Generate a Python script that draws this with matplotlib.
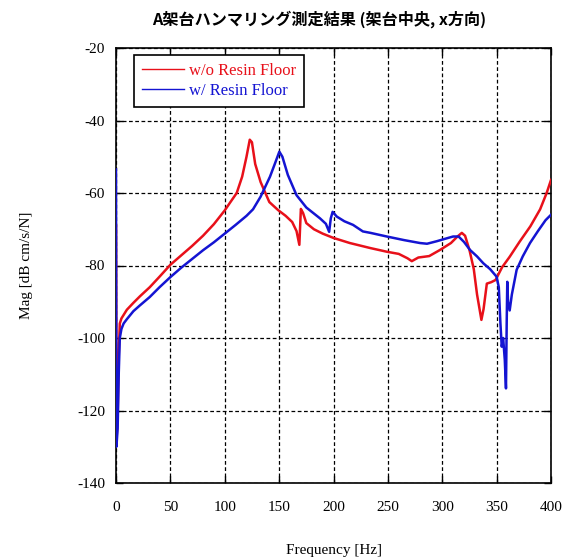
import matplotlib
matplotlib.use("Agg")
import matplotlib.pyplot as plt
from matplotlib.lines import Line2D

# ---- data ----
freq_wo = [0, 0.5, 1.5, 2.5, 3.5, 5, 10, 16, 22, 31, 40, 50, 60, 70, 80, 90, 100,
           105, 111, 116, 120, 123, 125, 128, 133, 141, 149, 156, 162, 166, 168.6,
           170, 172, 175, 182, 190, 200, 215, 234, 249, 260, 268, 272, 278, 288,
           298, 308, 314, 318, 321, 325, 329, 332, 336, 338, 341, 345, 349, 355,
           362, 371, 381, 390, 396, 400]
mag_wo = [-69, -128, -122, -105, -96, -94.6, -92.2, -90.3, -88.5, -86, -83.1, -79.8,
          -77.2, -74.6, -71.8, -68.6, -64.8, -62.6, -60, -55.5, -50, -45.3, -46,
          -52, -57, -62.5, -64.7, -66.3, -68, -70.5, -74.3, -64.4, -65.5, -68.3, -70,
          -71.2, -72.4, -73.8, -75.2, -76.2, -76.8, -78, -78.8, -77.8, -77.4, -75.7,
          -73.8, -72, -71, -71.8, -75.7, -81, -88, -95, -92, -85, -84.6, -84, -80.5,
          -77.6, -73.5, -69.2, -64.5, -60, -56.4]

freq_w = [0, 0.4, 1.5, 2.5, 3.5, 5, 7, 10, 16, 22, 31, 40, 50, 60, 70, 80, 90, 100,
          110, 120, 126, 133, 141.6, 146, 150.2, 153, 158, 166, 175, 187.6, 193, 196,
          197.5, 199.2, 203, 210, 218, 227, 234, 249, 265, 279.5, 286, 295, 303, 310,
          315, 320, 325.5, 332, 337.8, 344, 350, 352, 353.5, 354.7, 356, 357.5,
          358.6, 359.3, 359.8, 360.5, 362, 364, 368.4, 374, 380.7, 388, 395, 400]
mag_w = [-53.5, -130, -125, -110, -100, -97.5, -96, -94.8, -92.6, -91, -88.7,
         -86, -83.2, -80.6, -78.2, -75.8, -73.6, -71.2, -68.8, -66.3, -64.5, -61, -55.5,
         -52, -48.6, -50, -55, -60.6, -64, -67, -68.5, -70.7, -67, -65.2, -66.5, -67.8,
         -68.8, -70.6, -71, -72, -73, -73.8, -74, -73.3, -72.6, -72, -72, -73.5, -75.7,
         -77.5, -79.4, -81, -83.1, -86, -96, -102.4, -100, -106, -113.9, -95, -84.5,
         -90, -92.4, -88, -81.2, -77.5, -73.8, -70.5, -67.5, -66]

labels = ["w/o Resin Floor", "w/ Resin Floor"]
x_ticks = [0, 50, 100, 150, 200, 250, 300, 350, 400]
y_ticks = [-140, -120, -100, -80, -60, -40, -20]

RED = "#e8101a"
BLUE = "#1414d2"
SERIF = ["Liberation Serif", "DejaVu Serif"]

fig = plt.figure(figsize=(5.71, 5.58), dpi=100)
ax = fig.add_axes([116 / 571, 1 - 483 / 558, 435 / 571, 435 / 558])

ax.plot(freq_wo, mag_wo, color=RED, lw=1.8, zorder=3)
ax.plot(freq_w, mag_w, color=BLUE, lw=1.8, zorder=3)

ax.set_xlim(0, 400)
ax.set_ylim(-140, -20)
ax.set_xticks(x_ticks)
ax.set_yticks(y_ticks)
ax.set_xticklabels([str(v) for v in x_ticks], fontfamily=SERIF, fontsize=11)
ax.set_yticklabels([str(v) for v in y_ticks], fontfamily=SERIF, fontsize=11)
ax.tick_params(direction="in", length=5, width=1, top=True, right=True,
               pad=8, colors="black")
ax.tick_params(axis="x", pad=13)
ax.grid(True, color="black", linestyle=(0, (3, 2)), linewidth=0.9)
for s in ax.spines.values():
    s.set_linewidth(1.2)
    s.set_color("black")

ax.set_xlabel("Frequency [Hz]", fontfamily=SERIF, fontsize=11)
ax.set_ylabel("Mag [dB cm/s/N]", fontfamily=SERIF, fontsize=11)
ax.xaxis.set_label_coords(0.5, -0.14)
ax.yaxis.set_label_coords(-0.19, 0.5)

handles = [Line2D([], [], color=RED, lw=1.0), Line2D([], [], color=BLUE, lw=1.0)]
leg = ax.legend(handles, labels, loc="upper left", bbox_to_anchor=(0.041, 0.984),
                borderaxespad=0, fancybox=False, framealpha=1, edgecolor="black",
                prop={"family": SERIF, "size": 12}, handlelength=2.5,
                handletextpad=0.3, labelspacing=0.2, borderpad=0.5)
leg.get_frame().set_linewidth(1.2)
for t, c in zip(leg.get_texts(), [RED, BLUE]):
    t.set_color(c)

fig.text(319 / 571, 1 - 19 / 558, "A架台ハンマリング測定結果 (架台中央, x方向)",
         ha="center", va="center", fontsize=11.6, fontweight="bold",
         family=["Noto Sans CJK JP", "DejaVu Sans"])

fig.savefig("out.png", dpi=100)
